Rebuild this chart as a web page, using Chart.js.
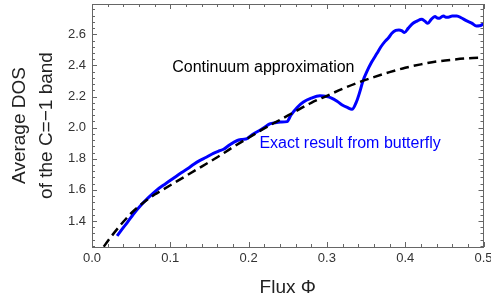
<!DOCTYPE html>
<html>
<head>
<meta charset="utf-8">
<script src="https://cdn.jsdelivr.net/npm/chart.js@4"></script>
<style>
  html, body { margin: 0; padding: 0; background: #fff; }
  #wrap { width: 491px; height: 298px; }
</style>
</head>
<body>
<div id="wrap"><canvas id="grafico"></canvas></div>
<script>
// continuum approximation (dashed black)
const phiCont = [0.015, 0.02, 0.03, 0.04, 0.05, 0.06, 0.07, 0.08, 0.09, 0.10, 0.12, 0.14, 0.16, 0.18, 0.20,
  0.22, 0.24, 0.26, 0.28, 0.30, 0.32, 0.34, 0.36, 0.38, 0.40, 0.42, 0.44, 0.46, 0.48, 0.50];
const dosCont = [1.235, 1.27, 1.335, 1.395, 1.45, 1.495, 1.535, 1.57, 1.60, 1.63, 1.69, 1.75, 1.81, 1.875, 1.935,
  1.995, 2.05, 2.105, 2.16, 2.205, 2.25, 2.29, 2.325, 2.357, 2.385, 2.407, 2.425, 2.437, 2.446, 2.45];

// exact result from butterfly (blue)
const phiExact = [0.032, 0.038, 0.045, 0.053, 0.0616, 0.072, 0.083, 0.094, 0.104, 0.114, 0.123, 0.130, 0.138,
  0.146, 0.155, 0.162, 0.168, 0.176, 0.185, 0.192, 0.198, 0.206, 0.215, 0.221, 0.227, 0.234, 0.241, 0.249,
  0.254, 0.262, 0.270, 0.280, 0.291, 0.300, 0.306, 0.313, 0.319, 0.326, 0.332, 0.338, 0.342, 0.346, 0.351,
  0.357, 0.364, 0.369, 0.374, 0.379, 0.383, 0.388, 0.392, 0.396, 0.399, 0.404, 0.410, 0.415, 0.421, 0.425,
  0.429, 0.433, 0.438, 0.441, 0.444, 0.447, 0.449, 0.452, 0.455, 0.460, 0.466, 0.472, 0.478, 0.485, 0.491,
  0.495, 0.500];
const dosExact = [1.304, 1.345, 1.39, 1.445, 1.497, 1.55, 1.60, 1.64, 1.675, 1.71, 1.739, 1.765, 1.79,
  1.81, 1.835, 1.85, 1.861, 1.89, 1.916, 1.925, 1.93, 1.96, 1.985, 2.005, 2.024, 2.032, 2.036, 2.039,
  2.08, 2.13, 2.165, 2.19, 2.205, 2.20, 2.19, 2.17, 2.148, 2.13, 2.118, 2.17, 2.23, 2.30, 2.36,
  2.42, 2.478, 2.52, 2.553, 2.58, 2.607, 2.625, 2.628, 2.622, 2.611, 2.64, 2.671, 2.685, 2.697, 2.685,
  2.671, 2.695, 2.714, 2.705, 2.703, 2.715, 2.718, 2.71, 2.71, 2.718, 2.718, 2.705, 2.688, 2.672, 2.654,
  2.655, 2.667];

const xTicks = [0.0, 0.1, 0.2, 0.3, 0.4, 0.5];
const yTicks = [1.4, 1.6, 1.8, 2.0, 2.2, 2.4, 2.6];

const txtCont = { label: "Continuum approximation", phi: 0.1024, dos: 2.358, color: "#000" };
const txtExact = { label: "Exact result from butterfly", phi: 0.2138, dos: 1.869, color: "#0000ff" };

const pares = (xs, ys) => xs.map((x, i) => ({ x: x, y: ys[i] }));

// frame + inward ticks on all four sides, and the two text labels
const molduraPlugin = {
  id: "moldura",
  afterDatasetsDraw(chart) {
    const { ctx, chartArea: a, scales } = chart;
    const sx = scales.x, sy = scales.y;
    ctx.save();
    ctx.strokeStyle = "#666";
    ctx.lineWidth = 1;
    ctx.strokeRect(Math.round(a.left) + 0.5, Math.round(a.top) + 0.5,
      Math.round(a.right - a.left) - 1, Math.round(a.bottom - a.top));
    ctx.beginPath();
    // x ticks, minor every 0.02
    for (let k = 0; k <= 25; k++) {
      const v = k * 0.02;
      const px = Math.round(sx.getPixelForValue(v)) + 0.5;
      const len = k % 5 === 0 ? 5 : 3;
      ctx.moveTo(px, a.bottom); ctx.lineTo(px, a.bottom - len);
      ctx.moveTo(px, a.top); ctx.lineTo(px, a.top + len);
    }
    // y ticks, minor every 0.04
    for (let k = 0; k <= 50; k++) {
      const v = 1.2 + k * 0.04;
      if (v < sy.min || v > sy.max) continue;
      const py = Math.round(sy.getPixelForValue(v)) + 0.5;
      const len = k % 5 === 0 ? 5 : 3;
      ctx.moveTo(a.left, py); ctx.lineTo(a.left + len, py);
      ctx.moveTo(a.right, py); ctx.lineTo(a.right - len, py);
    }
    ctx.stroke();

    ctx.font = "16px 'Liberation Sans', Arial, sans-serif";
    ctx.textBaseline = "alphabetic";
    ctx.textAlign = "left";
    [txtCont, txtExact].forEach(t => {
      ctx.fillStyle = t.color;
      ctx.fillText(t.label, sx.getPixelForValue(t.phi), sy.getPixelForValue(t.dos));
    });
    ctx.restore();
  }
};

const fonte = "'Liberation Sans', Arial, sans-serif";

new Chart(document.getElementById("grafico"), {
  type: "line",
  data: {
    datasets: [
      {
        label: "Continuum approximation",
        data: pares(phiCont, dosCont),
        borderColor: "#000",
        borderWidth: 2.5,
        borderDash: [9, 5],
        pointRadius: 0,
        cubicInterpolationMode: "monotone",
      },
      {
        label: "Exact result from butterfly",
        data: pares(phiExact, dosExact),
        borderColor: "#0000ff",
        borderWidth: 3,
        pointRadius: 0,
        cubicInterpolationMode: "monotone",
      },
    ],
  },
  options: {
    responsive: true,
    maintainAspectRatio: false,
    animation: false,
    layout: { padding: { top: 4, right: 7.5, left: 0, bottom: 0 } },
    plugins: { legend: { display: false }, tooltip: { enabled: false } },
    scales: {
      x: {
        type: "linear",
        min: 0,
        max: 0.5,
        grid: { display: false, drawTicks: false },
        border: { display: false },
        afterBuildTicks: s => { s.ticks = xTicks.map(v => ({ value: v })); },
        ticks: {
          padding: 4,
          color: "#333",
          font: { family: fonte, size: 13 },
          maxRotation: 0,
          callback: v => Number(v).toFixed(1),
        },
        title: {
          display: true,
          text: "Flux Φ",
          color: "#222",
          font: { family: fonte, size: 19, lineHeight: 1.05 },
          padding: { top: 0, bottom: 0 },
        },
        afterFit: s => { s.height = 51; s.paddingLeft = 0; s.paddingRight = 0; },
      },
      y: {
        type: "linear",
        min: 1.233,
        max: 2.795,
        grid: { display: false, drawTicks: false },
        border: { display: false },
        afterBuildTicks: s => { s.ticks = yTicks.map(v => ({ value: v })); },
        ticks: {
          padding: 6,
          color: "#333",
          font: { family: fonte, size: 13 },
          callback: v => Number(v).toFixed(1),
        },
        title: {
          display: true,
          text: ["Average DOS", "of the C=\u22121 band"],
          color: "#222",
          font: { family: fonte, size: 19, lineHeight: 1.42 },
          padding: { top: 6.5, bottom: 0 },
        },
        afterFit: s => { s.width = 92; s.paddingTop = 0; s.paddingBottom = 0; },
      },
    },
  },
  plugins: [molduraPlugin],
});
</script>
</body>
</html>
